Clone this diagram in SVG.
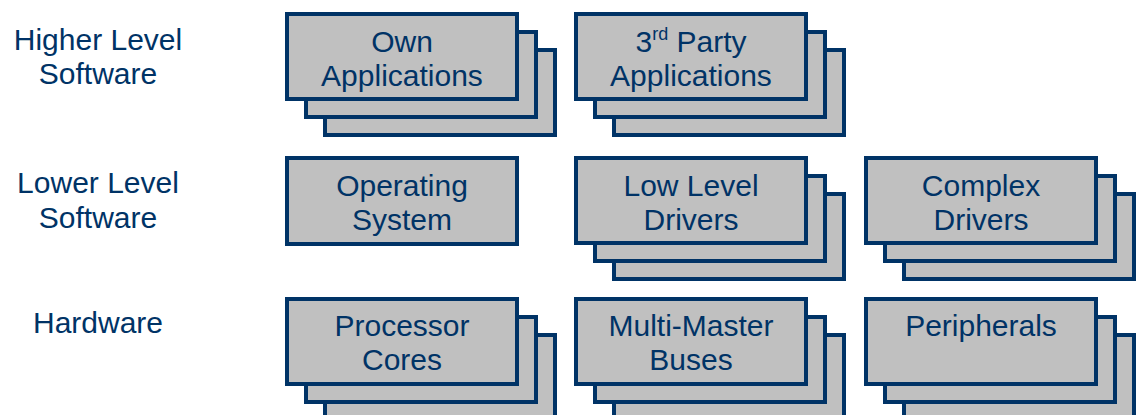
<svg xmlns="http://www.w3.org/2000/svg" width="1136" height="415" viewBox="0 0 1136 415">
<defs>
<style>
.card{fill:#c0c0c0;stroke:#003366;stroke-width:4}
.t{font-family:"Liberation Sans",Arial,sans-serif;font-size:30px;fill:#003366;text-anchor:middle}
</style>
<g id="stack3">
<rect class="card" x="38" y="36" width="230" height="85"/>
<rect class="card" x="19" y="18" width="230" height="85"/>
<rect class="card" x="0" y="0" width="230" height="85"/>
</g>
</defs>
<rect width="1136" height="415" fill="#ffffff"/>
<g id="layer-labels">
<text class="t" x="98" y="50">Higher Level</text>
<text class="t" x="98" y="84">Software</text>
<text class="t" x="98" y="193">Lower Level</text>
<text class="t" x="98" y="228">Software</text>
<text class="t" x="98" y="333">Hardware</text>
</g>
<g id="own-apps">
<use href="#stack3" x="287" y="14"/>
<text class="t" x="402" y="52">Own</text>
<text class="t" x="402" y="86">Applications</text>
</g>
<g id="third-party-apps">
<use href="#stack3" x="576" y="14"/>
<text class="t" x="691" y="52">3<tspan font-size="18" dy="-12">rd</tspan><tspan dy="12"> Party</tspan></text>
<text class="t" x="691" y="86">Applications</text>
</g>
<g id="operating-system">
<rect class="card" x="287" y="158" width="230" height="86"/>
<text class="t" x="402" y="196">Operating</text>
<text class="t" x="402" y="230">System</text>
</g>
<g id="low-level-drivers">
<use href="#stack3" x="576" y="158"/>
<text class="t" x="691" y="196">Low Level</text>
<text class="t" x="691" y="230">Drivers</text>
</g>
<g id="complex-drivers">
<use href="#stack3" x="866" y="158"/>
<text class="t" x="981" y="196">Complex</text>
<text class="t" x="981" y="230">Drivers</text>
</g>
<g id="processor-cores">
<use href="#stack3" x="287" y="299"/>
<text class="t" x="402" y="336">Processor</text>
<text class="t" x="402" y="370">Cores</text>
</g>
<g id="multi-master-buses">
<use href="#stack3" x="576" y="299"/>
<text class="t" x="691" y="336">Multi-Master</text>
<text class="t" x="691" y="370">Buses</text>
</g>
<g id="peripherals">
<use href="#stack3" x="866" y="299"/>
<text class="t" x="981" y="336">Peripherals</text>
</g>
<g id="connectors"/>
</svg>
